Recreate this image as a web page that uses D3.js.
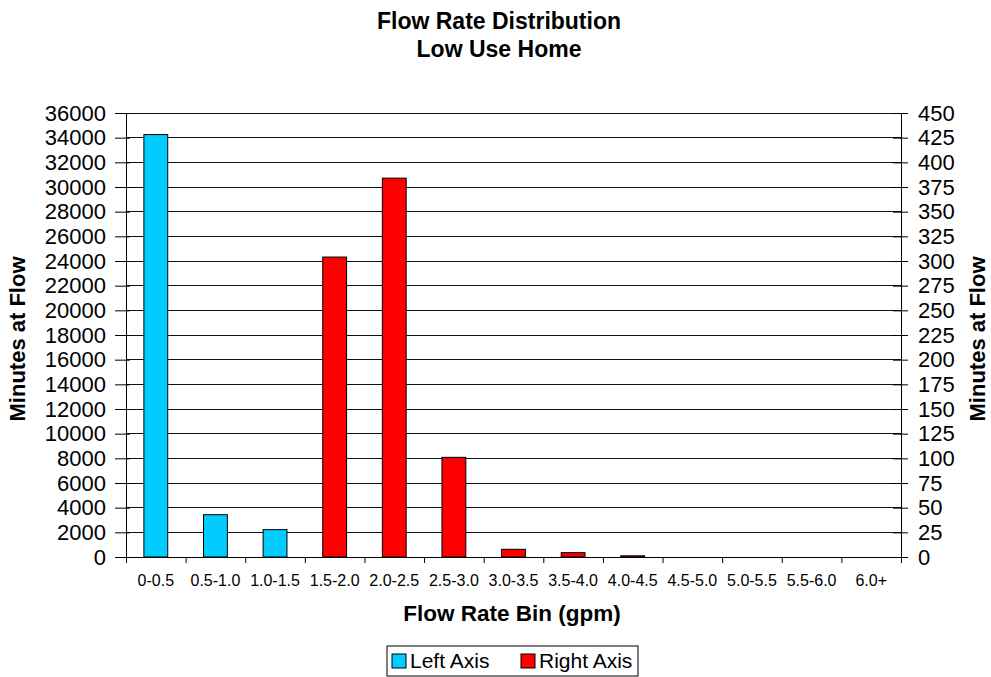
<!DOCTYPE html>
<html>
<head>
<meta charset="utf-8">
<script src="https://cdn.jsdelivr.net/npm/d3@7"></script>
<style>
  body { margin: 0; background: #fff; }
  text { font-family: Arial, "Liberation Sans", sans-serif; fill: #000; }
</style>
</head>
<body>
<svg id="chart" width="991" height="677"></svg>
<script>
const bins = ['0-0.5', '0.5-1.0', '1.0-1.5', '1.5-2.0', '2.0-2.5', '2.5-3.0', '3.0-3.5',
              '3.5-4.0', '4.0-4.5', '4.5-5.0', '5.0-5.5', '5.5-6.0', '6.0+'];
// which axis each bin is plotted on
const axisSide = ['left', 'left', 'left', 'right', 'right', 'right', 'right',
                  'right', 'right', 'right', 'right', 'right', 'right'];
const minutes = [34250, 3430, 2220, 304, 384, 101, 7.8, 4.4, 1.2, 0, 0, 0, 0];
const leftTicks = d3.range(0, 36001, 2000);
const rightTicks = d3.range(0, 451, 25);

const margin = { top: 113, right: 90, bottom: 120, left: 126 };
const width = 991 - margin.left - margin.right;
const height = 677 - margin.top - margin.bottom;

const svg = d3.select('#chart');
const g = svg.append('g').attr('transform', `translate(${margin.left},${margin.top})`);

const x = d3.scaleBand().domain(bins).range([0, width]).paddingInner(0.6).paddingOuter(0.3);
const yL = d3.scaleLinear().domain([0, 36000]).range([height, 0]);
const yR = d3.scaleLinear().domain([0, 450]).range([height, 0]);

// gridlines
g.append('g')
  .selectAll('line')
  .data(leftTicks)
  .join('line')
  .attr('x1', 0).attr('x2', width)
  .attr('y1', d => yL(d)).attr('y2', d => yL(d))
  .attr('stroke', '#111').attr('stroke-width', 1).attr('shape-rendering', 'crispEdges');

// bars
g.append('g')
  .selectAll('rect')
  .data(bins.map((b, i) => ({ bin: b, side: axisSide[i], v: minutes[i] })))
  .join('rect')
  .attr('x', d => x(d.bin))
  .attr('width', x.bandwidth())
  .attr('y', d => (d.side === 'left' ? yL : yR)(d.v))
  .attr('height', d => height - (d.side === 'left' ? yL : yR)(d.v))
  .attr('fill', d => d.side === 'left' ? '#00CCFF' : '#FF0000')
  .attr('stroke', d => d.v > 0 ? '#000' : 'none')
  .attr('stroke-width', 1);

// axes (ticks cross the axis line, like the original)
const axL = g.append('g')
  .call(d3.axisLeft(yL).tickValues(leftTicks).tickSize(11).tickPadding(9).tickFormat(d3.format('d')));
axL.selectAll('.tick line').attr('x2', 4).attr('x1', -11);
const axR = g.append('g')
  .attr('transform', `translate(${width},0)`)
  .call(d3.axisRight(yR).tickValues(rightTicks).tickSize(7).tickPadding(10).tickFormat(d3.format('d')));
axR.selectAll('.tick line').attr('x1', -8).attr('x2', 7);
[axL, axR].forEach(a => {
  a.selectAll('text').style('font-size', '22px');
  a.select('.domain').attr('stroke', '#000');
  a.selectAll('.tick line').attr('stroke', '#000');
});

const xb = d3.scaleLinear().domain([0, bins.length]).range([0, width]);
const axX = g.append('g')
  .attr('transform', `translate(0,${height})`)
  .call(d3.axisBottom(xb).tickValues(d3.range(0, bins.length + 1)).tickSize(6).tickFormat(''));
axX.select('.domain').attr('stroke', '#000');
g.append('g')
  .selectAll('text')
  .data(bins)
  .join('text')
  .attr('x', d => x(d) + x.bandwidth() / 2)
  .attr('y', height + 29)
  .attr('text-anchor', 'middle')
  .style('font-size', '16px')
  .text(d => d);

// titles
svg.append('text').attr('x', 499).attr('y', 29).attr('text-anchor', 'middle')
  .style('font-size', '23px').style('font-weight', 'bold').text('Flow Rate Distribution');
svg.append('text').attr('x', 499).attr('y', 57).attr('text-anchor', 'middle')
  .style('font-size', '23px').style('font-weight', 'bold').text('Low Use Home');
svg.append('text').attr('x', 512).attr('y', 621).attr('text-anchor', 'middle')
  .style('font-size', '22.5px').style('font-weight', 'bold').text('Flow Rate Bin (gpm)');
svg.append('text').attr('transform', 'translate(25,339) rotate(-90)').attr('text-anchor', 'middle')
  .style('font-size', '22px').style('font-weight', 'bold').text('Minutes at Flow');
svg.append('text').attr('transform', 'translate(985,339) rotate(-90)').attr('text-anchor', 'middle')
  .style('font-size', '22px').style('font-weight', 'bold').text('Minutes at Flow');

// legend
const lg = svg.append('g').attr('transform', 'translate(387,646)');
lg.append('rect').attr('width', 251).attr('height', 30)
  .attr('fill', '#fff').attr('stroke', '#000').attr('stroke-width', 1);
const items = [{ label: 'Left Axis', color: '#00CCFF', x: 5 }, { label: 'Right Axis', color: '#FF0000', x: 134 }];
items.forEach(it => {
  lg.append('rect').attr('x', it.x).attr('y', 8).attr('width', 14).attr('height', 14)
    .attr('fill', it.color).attr('stroke', '#000');
  lg.append('text').attr('x', it.x + 18).attr('y', 22).style('font-size', '21px').text(it.label);
});
</script>
</body>
</html>
